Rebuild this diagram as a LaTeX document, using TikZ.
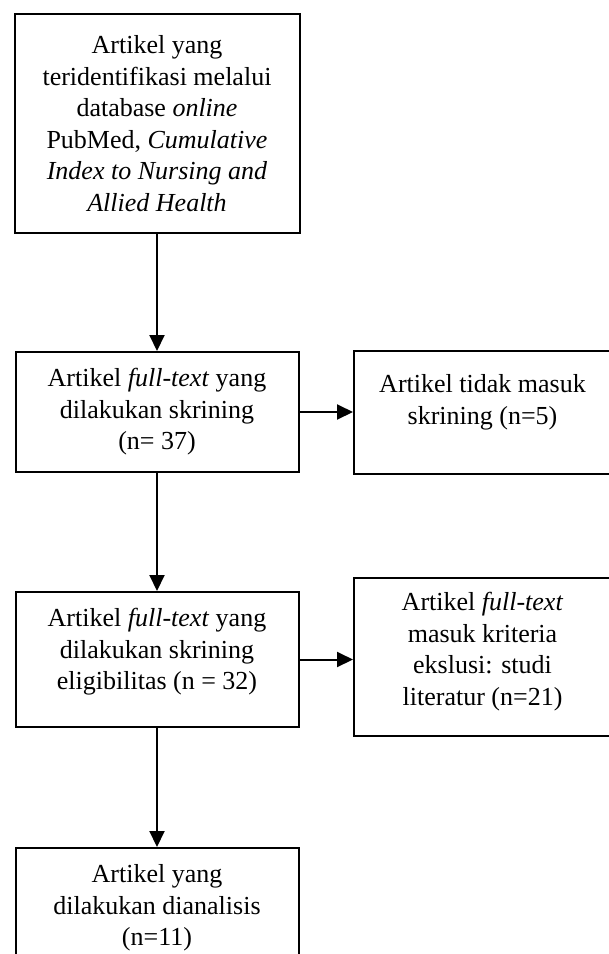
\documentclass[tikz,border=0pt]{standalone}
\usepackage{fontspec}
\setmainfont{Liberation Serif}
\usetikzlibrary{arrows.meta}

\tikzset{
  txt/.style={align=center,inner sep=0pt,font=\fontsize{13pt}{15.75pt}\selectfont},
  box/.style={txt,draw,line width=1pt},
  leftbox/.style={box,minimum width=141.5pt},
  rightbox/.style={box,minimum width=128.5pt}
}

\begin{document}
\begin{tikzpicture}[x=0.5pt,y=-0.5pt,>={Triangle[length=8pt,width=7.5pt]}]
    \useasboundingbox (0,0) rectangle (609,954);

    \node[box,minimum width=142.5pt,minimum height=109.5pt] (ident) at (157,123.5)
      {Artikel yang\\ teridentifikasi melalui\\ database \textit{online}\\
       PubMed, \textit{Cumulative}\\ \textit{Index to Nursing and}\\ \textit{Allied Health}};

    \node[leftbox,minimum height=60pt] (screen) at (157,412)
      {Artikel \textit{full-text} yang\\ dilakukan skrining\\ (n= 37)};

    \node[rightbox,minimum height=61.5pt] (notin) at (482.5,412.5) {};
    \node[txt] (notintxt) at (482.5,402.5) {Artikel tidak masuk\\ skrining (n=5)};

    \node[leftbox,minimum height=67.5pt] (elig) at (157,659.5) {};
    \node[txt] (eligtxt) at (157,652)
      {Artikel \textit{full-text} yang\\ dilakukan skrining\\ eligibilitas (n = 32)};

    \node[rightbox,minimum height=79pt] (excl) at (482.5,657) {};
    \node[txt] (excltxt) at (482.5,651.5)
      {Artikel \textit{full-text}\\ masuk kriteria\\ ekslusi: studi\\ literatur (n=21)};

    \node[leftbox,minimum height=60pt] (anal) at (157,908)
      {Artikel yang\\ dilakukan dianalisis\\ (n=11)};

    \draw[->,line width=1pt] (ident) -- (screen);
    \draw[->,line width=1pt] (screen) -- (elig);
    \draw[->,line width=1pt] (elig) -- (anal);
    \draw[->,line width=1pt] (screen.east) -- (screen.east -| notin.west);
    \draw[->,line width=1pt] (elig.east) -- (elig.east -| excl.west);
  \end{tikzpicture}
\end{document}
